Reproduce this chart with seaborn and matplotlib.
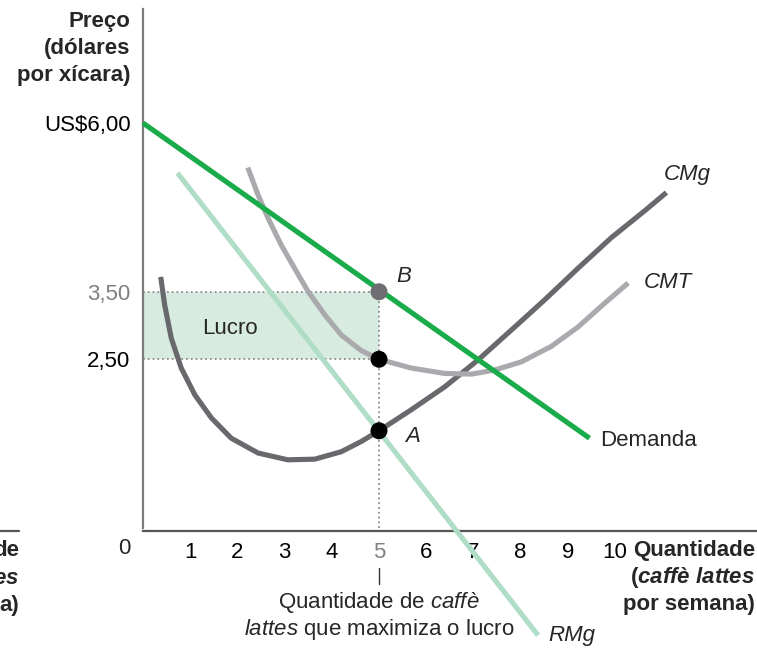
import matplotlib
matplotlib.use("Agg")
import pandas as pd
import matplotlib.pyplot as plt
import seaborn as sns

# values (q = caffè lattes por semana, p = dólares por xícara)
demanda_q = [0.0, 9.46]
demanda_p = [6.0, 1.33]

rmg_q = [0.73, 8.37]
rmg_p = [5.26, -1.59]

cmt_q = [2.22, 2.44, 2.65, 2.93, 3.21, 3.50, 3.85, 4.20, 4.62, 5.00, 5.68, 6.39, 6.96, 7.45, 8.01, 8.65, 9.22, 9.78, 10.28]
cmt_p = [5.34, 4.93, 4.59, 4.19, 3.85, 3.50, 3.16, 2.86, 2.63, 2.50, 2.37, 2.29, 2.28, 2.34, 2.46, 2.69, 2.98, 3.33, 3.63]

cmg_q = [0.375, 0.46, 0.60, 0.81, 1.10, 1.45, 1.87, 2.44, 3.07, 3.64, 4.20, 4.62, 5.00,
         5.68, 6.39, 7.10, 7.80, 8.51, 9.22, 9.92, 10.63, 11.09]
cmg_p = [3.72, 3.30, 2.81, 2.37, 1.97, 1.63, 1.33, 1.11, 1.01, 1.02, 1.13, 1.28, 1.44,
         1.75, 2.09, 2.49, 2.93, 3.38, 3.85, 4.30, 4.70, 4.97]

q_otimo = 5
preco = 3.50
custo_medio = 2.50
custo_marginal = 1.44

x_ticks = [1, 2, 3, 4, 5, 6, 7, 8, 9, 10]
y_ticks = [2.5, 3.5, 6.0]
y_tick_labels = ["2,50", "3,50", "US$6,00"]

VERDE = "#1aab4b"
VERDE_CLARO = "#b0ddc6"
CINZA_ESCURO = "#69696d"
CINZA_CLARO = "#aaaaae"
LUCRO = "#d7ebe0"
PONTILHADO = "#8c8c8c"

sns.set_theme(style="white")
plt.rcParams["font.family"] = ["Liberation Sans", "DejaVu Sans"]
plt.rcParams["mathtext.fontset"] = "custom"
plt.rcParams["mathtext.rm"] = "Liberation Sans"
plt.rcParams["mathtext.it"] = "Liberation Sans:italic"
plt.rcParams["mathtext.bf"] = "Liberation Sans:bold"
plt.rcParams["mathtext.bfit"] = "Liberation Sans:bold:italic"
FS = 16

fig = plt.figure(figsize=(7.57, 6.52), dpi=100)
ax = fig.add_axes([0, 0, 1, 1])
# pixel layout: q=0 at x=143, 47.2 px per unit; p=0 at y=528, 67.5 px per unit
ax.set_xlim(-143 / 47.2, (757 - 143) / 47.2)
ax.set_ylim((528 - 652) / 67.5, 528 / 67.5)

# profit rectangle
ax.fill_between([0, q_otimo], custo_medio, preco, color=LUCRO, lw=0, zorder=1)
ax.plot([0, q_otimo], [preco, preco], ls=":", color=PONTILHADO, lw=1.3, zorder=2)
ax.plot([0, q_otimo], [custo_medio, custo_medio], ls=":", color=PONTILHADO, lw=1.3, zorder=2)
ax.plot([q_otimo, q_otimo], [0, preco], ls=":", color=PONTILHADO, lw=1.3, zorder=2)

curvas = [
    (rmg_q, rmg_p, VERDE_CLARO),
    (cmg_q, cmg_p, CINZA_ESCURO),
    (cmt_q, cmt_p, CINZA_CLARO),
    (demanda_q, demanda_p, VERDE),
]
for qs, ps, cor in curvas:
    df = pd.DataFrame({"q": qs, "p": ps})
    sns.lineplot(data=df, x="q", y="p", color=cor, lw=3.7, ax=ax, zorder=3,
                 solid_capstyle="butt", solid_joinstyle="round", clip_on=False)

pontos = pd.DataFrame({"q": [q_otimo, q_otimo, q_otimo],
                       "p": [preco, custo_medio, custo_marginal],
                       "tipo": ["B", "CMT", "A"]})
sns.scatterplot(data=pontos, x="q", y="p", hue="tipo", palette={"B": "#6e6e73", "CMT": "black", "A": "black"},
                s=150, edgecolor="none", legend=False, ax=ax, zorder=5)

# axes
for s in ["top", "right"]:
    ax.spines[s].set_visible(False)
ax.spines["left"].set_position(("data", 0))
ax.spines["left"].set_bounds(0, (528 - 9) / 67.5)
ax.spines["left"].set_color("#7a7a7a")
ax.spines["left"].set_linewidth(1.6)
ax.spines["bottom"].set_position(("data", -0.04))
ax.spines["bottom"].set_bounds(0, 13.0)
ax.spines["bottom"].set_color("#555555")
ax.spines["bottom"].set_linewidth(1.6)

ax.set_xticks(x_ticks)
ax.set_xticklabels([str(t) for t in x_ticks])
ax.set_yticks(y_ticks)
ax.set_yticklabels(y_tick_labels)
ax.tick_params(axis="both", length=0, labelsize=FS, colors="black")
ax.tick_params(axis="x", pad=8)
ax.tick_params(axis="y", pad=9)
ax.get_xticklabels()[4].set_color("#808080")
ax.get_yticklabels()[1].set_color("#808080")
ax.set_xlabel("")
ax.set_ylabel("")
ax.text(-0.40, -0.31, "0", fontsize=FS, ha="center", va="center")

# axis titles
for i, linha in enumerate(["Preço", "(dólares", "por xícara)"]):
    ax.text(-0.27, 7.50 - i * 0.40, linha, fontsize=FS, fontweight="bold", ha="right", va="center")
ax.text(12.97, -0.34, "Quantidade", fontsize=FS, fontweight="bold", ha="right", va="center")
ax.text(12.97, -0.74, r"($\mathbfit{caffè\ lattes}$", fontsize=FS, fontweight="bold", ha="right", va="center")
ax.text(12.97, -1.14, "por semana)", fontsize=FS, fontweight="bold", ha="right", va="center")

# curve labels
ax.text(11.04, 5.23, "CMg", fontsize=FS, style="italic", ha="left", va="center")
ax.text(10.61, 3.63, "CMT", fontsize=FS, style="italic", ha="left", va="center")
ax.text(9.68, 1.29, "Demanda", fontsize=FS, ha="left", va="center")
ax.text(8.58, -1.60, "RMg", fontsize=FS, style="italic", ha="left", va="center")
ax.text(5.53, 3.72, "B", fontsize=FS, style="italic", ha="center", va="center")
ax.text(5.72, 1.36, "A", fontsize=FS, style="italic", ha="center", va="center")
ax.text(1.84, 2.96, "Lucro", fontsize=FS, ha="center", va="center")

# profit-maximising quantity note
ax.plot([q_otimo, q_otimo], [-0.59, -0.83], color="#333333", lw=1.0, clip_on=False)
ax.text(q_otimo, -1.11, r"Quantidade de $\mathit{caffè}$", fontsize=FS, ha="center", va="center")
ax.text(q_otimo, -1.51, r"$\mathit{lattes}$ que maximiza o lucro", fontsize=FS, ha="center", va="center")

# cropped neighbour label at the left edge (cut off in the reference too)
ax.plot([-3.03, -2.63], [-0.04, -0.04], color="#555555", lw=1.6, clip_on=False)
ax.text(-2.63, -0.34, "de", fontsize=FS, fontweight="bold", ha="right", va="center")
ax.text(-2.63, -0.75, r"$\mathbfit{es}$", fontsize=FS, ha="right", va="center")
ax.text(-2.63, -1.15, "a)", fontsize=FS, fontweight="bold", ha="right", va="center")

fig.savefig("out.png", dpi=100)
